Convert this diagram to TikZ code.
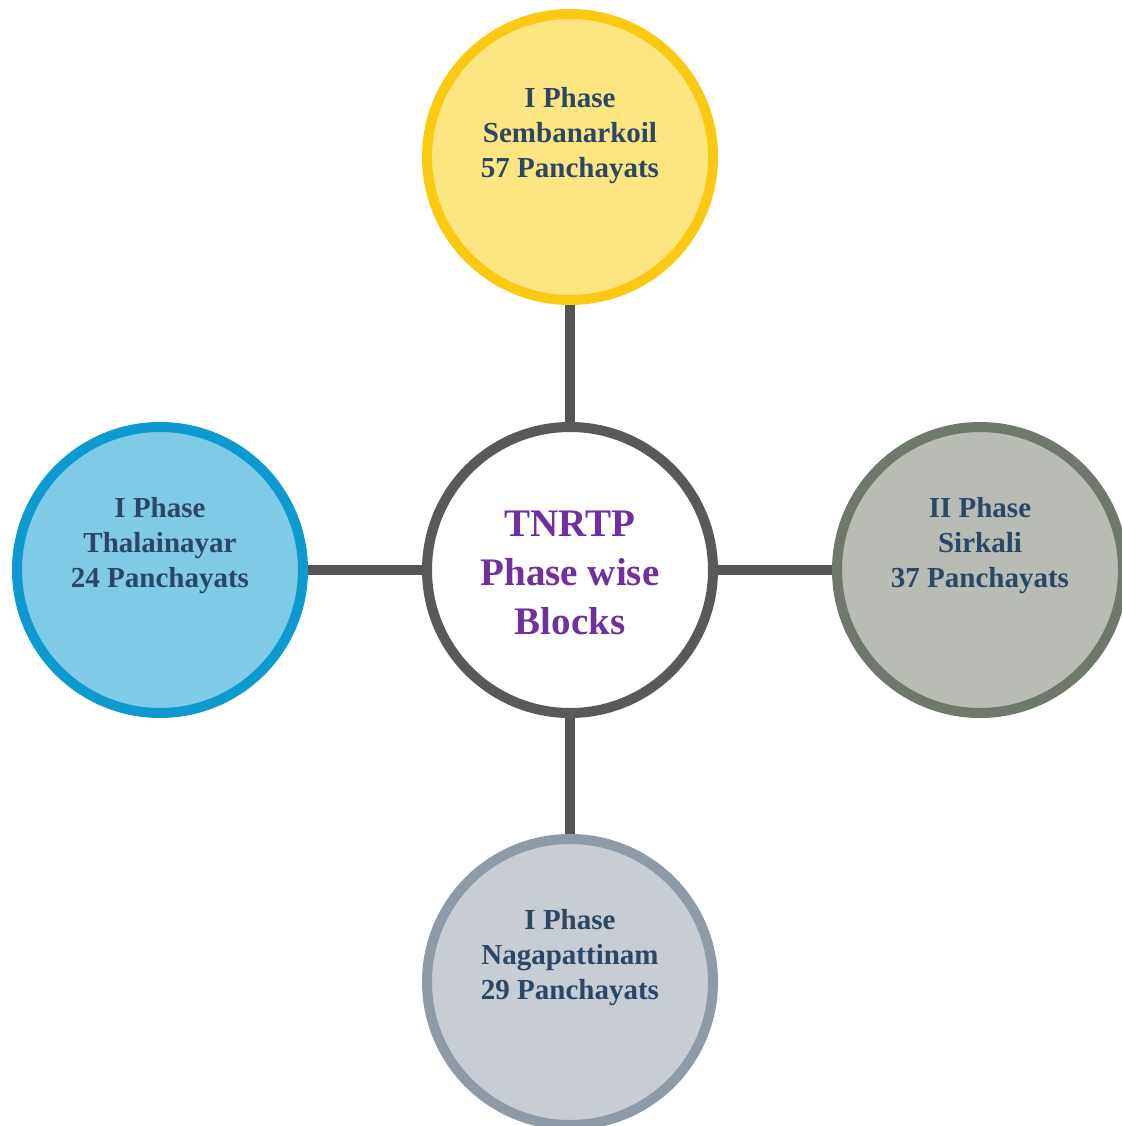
\documentclass[tikz,border=0pt]{standalone}
\usepackage{fontspec}
\setmainfont{Liberation Serif}
\definecolor{ringgray}{HTML}{595959}
\definecolor{linkgray}{HTML}{555555}
\definecolor{txtblue}{HTML}{2B4766}
\definecolor{txtpurple}{HTML}{7030A0}
\definecolor{yelfill}{HTML}{FDE581}
\definecolor{yelring}{HTML}{FBC912}
\definecolor{bluefill}{HTML}{7FCBE6}
\definecolor{bluering}{HTML}{0C9AD0}
\definecolor{grnfill}{HTML}{B8BCB4}
\definecolor{grnring}{HTML}{6E796C}
\definecolor{slatefill}{HTML}{C8CDD4}
\definecolor{slatering}{HTML}{8E9AA6}
\tikzset{
  blob/.style={circle,draw,line width=10pt,minimum size=286pt,inner sep=0pt},
  blobtext/.style={align=center,text=txtblue,font=\fontsize{29}{35}\selectfont\bfseries},
  link/.style={draw=linkgray,line width=10pt}
}
\begin{document}
\begin{tikzpicture}[x=1pt,y=1pt]
        \useasboundingbox (0,0) rectangle (1121,-1126);

        \node[blob,draw=ringgray,fill=white] (ctr) at (570,-570){};
        \node[blob,draw=yelring,fill=yelfill] (top) at (570,-157){};
        \node[blob,draw=bluering,fill=bluefill] (left) at (160,-570){};
        \node[blob,draw=grnring,fill=grnfill] (right) at (980,-570){};
        \node[blob,draw=slatering,fill=slatefill] (bottom) at (570,-982){};

        \draw[link] (ctr) -- (top);
        \draw[link] (ctr) -- (left);
        \draw[link] (ctr) -- (right);
        \draw[link] (ctr) -- (bottom);

        \node[align=center,text=txtpurple,font=\fontsize{39}{49}\selectfont\bfseries] (ctrt) at ([yshift=-3pt]ctr.center){TNRTP\\Phase wise\\Blocks};
        \node[blobtext] (topt) at ([yshift=21pt]top.center){I Phase\\Sembanarkoil\\57 Panchayats};
        \node[blobtext] (leftt) at ([yshift=24pt]left.center){I Phase\\Thalainayar\\24 Panchayats};
        \node[blobtext] (rightt) at ([yshift=24pt]right.center){II Phase\\Sirkali\\37 Panchayats};
        \node[blobtext] (bottomt) at ([yshift=24pt]bottom.center){I Phase\\Nagapattinam\\29 Panchayats};
    \end{tikzpicture}
\end{document}
